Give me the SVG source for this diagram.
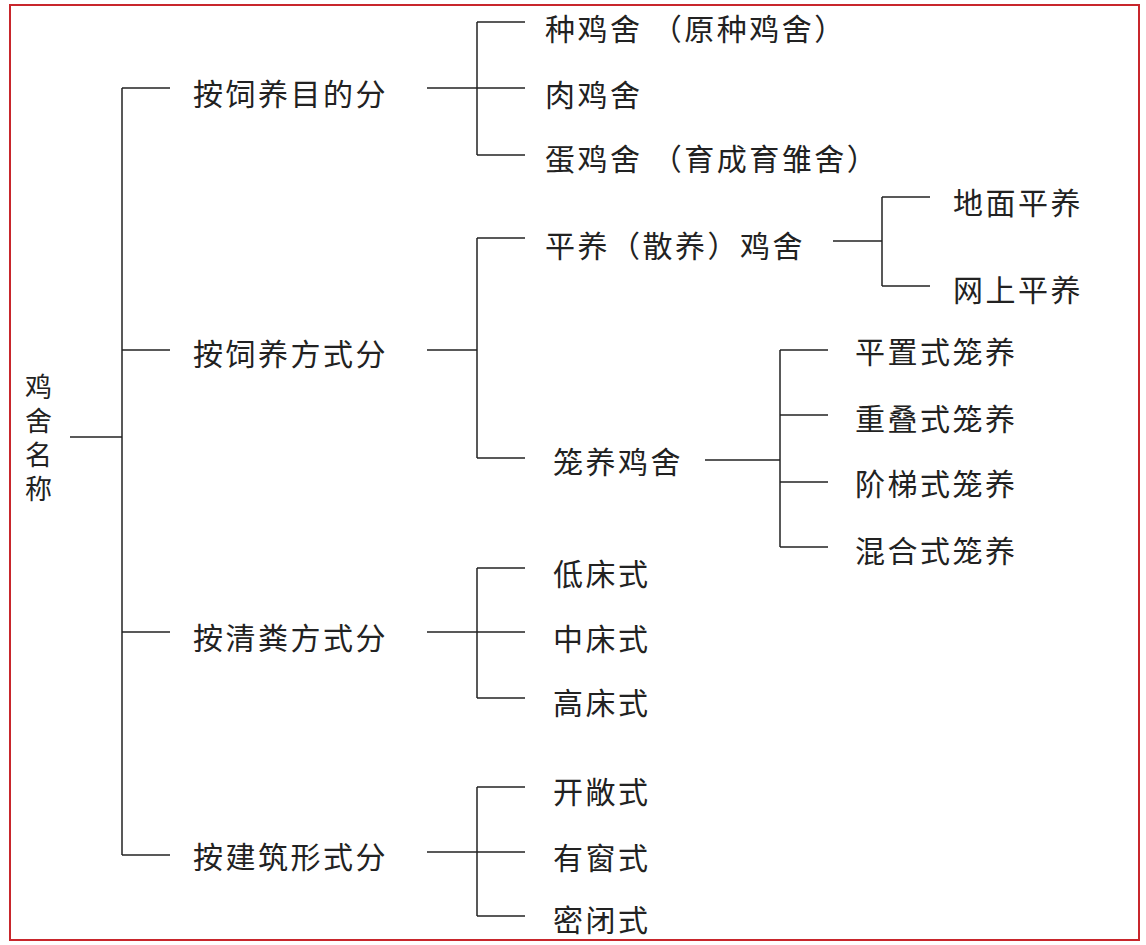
<svg xmlns="http://www.w3.org/2000/svg" width="1146" height="945" viewBox="0 0 1146 945">
<style>
text{font-family:"Noto Sans CJK SC","Noto Sans",sans-serif;font-size:30px;letter-spacing:2.5px;fill:#222;dominant-baseline:central}
#root text{font-size:27px;letter-spacing:0}
.c line{stroke:#222;stroke-width:1.5}
</style>
<rect x="0" y="0" width="1146" height="945" fill="#fff"/>
<rect x="10" y="5" width="1129" height="935" fill="none" stroke="#c8262c" stroke-width="2"/>
<g class="c">
<line x1="70" y1="437" x2="122" y2="437"/>
<line x1="122" y1="88" x2="122" y2="855"/>
<line x1="122" y1="88" x2="170" y2="88"/><line x1="122" y1="350" x2="170" y2="350"/>
<line x1="122" y1="632" x2="170" y2="632"/><line x1="122" y1="855" x2="170" y2="855"/>
<line x1="427" y1="88" x2="477" y2="88"/><line x1="477" y1="22" x2="477" y2="155"/>
<line x1="477" y1="22" x2="525" y2="22"/><line x1="477" y1="88" x2="525" y2="88"/><line x1="477" y1="155" x2="525" y2="155"/>
<line x1="427" y1="350" x2="477" y2="350"/><line x1="477" y1="238" x2="477" y2="458"/>
<line x1="477" y1="238" x2="525" y2="238"/><line x1="477" y1="458" x2="525" y2="458"/>
<line x1="833" y1="241" x2="882" y2="241"/><line x1="882" y1="197" x2="882" y2="286"/>
<line x1="882" y1="197" x2="930" y2="197"/><line x1="882" y1="286" x2="930" y2="286"/>
<line x1="705" y1="460" x2="780" y2="460"/><line x1="780" y1="350" x2="780" y2="547"/>
<line x1="780" y1="350" x2="828" y2="350"/><line x1="780" y1="415" x2="828" y2="415"/>
<line x1="780" y1="482" x2="828" y2="482"/><line x1="780" y1="547" x2="828" y2="547"/>
<line x1="427" y1="632" x2="477" y2="632"/><line x1="477" y1="568" x2="477" y2="698"/>
<line x1="477" y1="568" x2="525" y2="568"/><line x1="477" y1="632" x2="525" y2="632"/><line x1="477" y1="698" x2="525" y2="698"/>
<line x1="427" y1="852" x2="477" y2="852"/><line x1="477" y1="787" x2="477" y2="916"/>
<line x1="477" y1="787" x2="525" y2="787"/><line x1="477" y1="852" x2="525" y2="852"/><line x1="477" y1="916" x2="525" y2="916"/>
</g>
<g id="root"><text x="25" y="385">鸡</text><text x="25" y="419">舍</text><text x="25" y="453">名</text><text x="25" y="487">称</text></g>
<g id="n1"><text x="193" y="92">按饲养目的分</text></g>
<g id="n2"><text x="193" y="352">按饲养方式分</text></g>
<g id="n3"><text x="193" y="636">按清粪方式分</text></g>
<g id="n4"><text x="193" y="855">按建筑形式分</text></g>
<g id="a1"><text x="545" y="27">种鸡舍 （原种鸡舍）</text></g>
<g id="a2"><text x="545" y="93">肉鸡舍</text></g>
<g id="a3"><text x="545" y="157">蛋鸡舍 （育成育雏舍）</text></g>
<g id="b1"><text x="545" y="244">平养（散养）鸡舍</text></g>
<g id="b2"><text x="553" y="460">笼养鸡舍</text></g>
<g id="b11"><text x="953" y="201">地面平养</text></g>
<g id="b12"><text x="953" y="288">网上平养</text></g>
<g id="b21"><text x="855" y="350">平置式笼养</text></g>
<g id="b22"><text x="855" y="417">重叠式笼养</text></g>
<g id="b23"><text x="855" y="482">阶梯式笼养</text></g>
<g id="b24"><text x="855" y="549">混合式笼养</text></g>
<g id="c1"><text x="553" y="572">低床式</text></g>
<g id="c2"><text x="553" y="637">中床式</text></g>
<g id="c3"><text x="553" y="701">高床式</text></g>
<g id="d1"><text x="553" y="790">开敞式</text></g>
<g id="d2"><text x="553" y="856">有窗式</text></g>
<g id="d3"><text x="553" y="918">密闭式</text></g>
</svg>
